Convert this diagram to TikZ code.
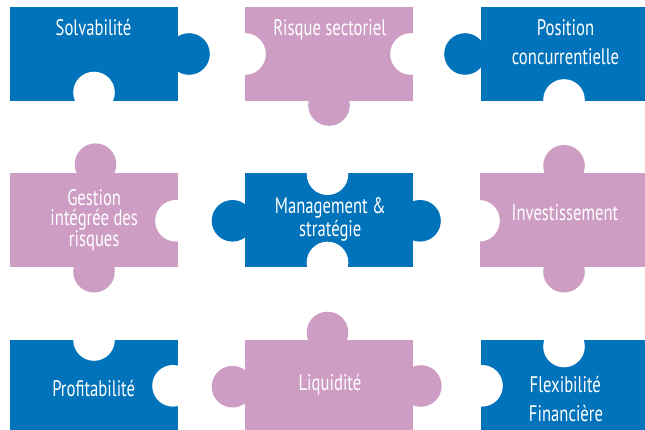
\documentclass[tikz,border=0pt]{standalone}
\usepackage{fontspec}
\setmainfont{PT Sans}[FakeStretch=0.74]
\definecolor{pblue}{HTML}{0073BB}
\definecolor{ppink}{HTML}{CE9DC4}
\begin{document}
\begin{tikzpicture}[x=1pt,y=-1pt,
  lbl/.style={text=white,font=\fontsize{22.5}{24}\selectfont,anchor=base,inner sep=0pt},
  blueP/.style={fill=pblue},
  pinkP/.style={fill=ppink},
  holeP/.style={fill=white}]
\useasboundingbox[fill=white] (0,0) rectangle (645,430);
\def\r{20.8pt}
% P1 Solvabilite
\fill[blueP] (10,7.3) rectangle (178,100.7);
\fill[blueP] (189,54) circle (\r);
\fill[holeP] (94,92.5) circle (\r);
% P2 Risque sectoriel
\fill[pinkP] (245,7.3) rectangle (413,100.7);
\fill[pinkP] (329,105) circle (\r);
\fill[holeP] (245,54) circle (\r);
\fill[holeP] (411,54) circle (\r);
% P3 Position concurrentielle
\fill[blueP] (480.7,7.3) rectangle (645,100.7);
\fill[blueP] (465,54) circle (\r);
\fill[holeP] (564,100) circle (\r);
% P4 Gestion
\fill[pinkP] (10,173.3) rectangle (178,266.7);
\fill[pinkP] (95.5,164.2) circle (\r);
\fill[pinkP] (94,271.7) circle (\r);
\fill[holeP] (176,220.8) circle (\r);
% P5 Management
\fill[blueP] (245,173.3) rectangle (413,266.7);
\fill[blueP] (232.5,220.8) circle (\r);
\fill[blueP] (420,220.8) circle (\r);
\fill[holeP] (327.5,174.2) circle (\r);
\fill[holeP] (327.5,262.5) circle (\r);
% P6 Investissement
\fill[pinkP] (480,173.3) rectangle (645,266.7);
\fill[pinkP] (564,165.8) circle (\r);
\fill[pinkP] (564,271.7) circle (\r);
\fill[holeP] (479,220.8) circle (\r);
% P7 Profitabilite
\fill[blueP] (10,340) rectangle (178.3,430);
\fill[holeP] (94,340) circle (\r);
\fill[holeP] (173,385.8) circle (\r);
% P8 Liquidite
\fill[pinkP] (245,340) rectangle (413,430);
\fill[pinkP] (327.5,332.5) circle (\r);
\fill[pinkP] (232.5,386.7) circle (\r);
\fill[pinkP] (420.8,386) circle (\r);
% P9 Flexibilite
\fill[blueP] (480.7,340) rectangle (645,430);
\fill[holeP] (564,346.5) circle (\r);
\fill[holeP] (482,385.8) circle (\r);
% labels
\node[lbl] (t1) at (93.5,35.7) {Solvabilité};
\node[lbl] (t2) at (329.7,35.7) {Risque sectoriel};
\node[lbl] (t3a) at (565.5,36) {Position};
\node[lbl] (t3b) at (565.5,65) {concurrentielle};
\node[lbl] (t4a) at (94.2,205.7) {Gestion};
\node[lbl] (t4b) at (94.2,226) {intégrée des};
\node[lbl] (t4c) at (94.2,246.5) {risques};
\node[lbl] (t5a) at (330.3,213.5) {Management \&};
\node[lbl] (t5b) at (330.3,236.5) {stratégie};
\node[lbl] (t6) at (565,221) {Investissement};
\node[lbl] (t7) at (93.7,396) {Profitabilité};
\node[lbl] (t8) at (330,390) {Liquidité};
\node[lbl] (t9a) at (565.3,392.7) {Flexibilité};
\node[lbl] (t9b) at (566,421.7) {Financière};
\end{tikzpicture}
\end{document}
